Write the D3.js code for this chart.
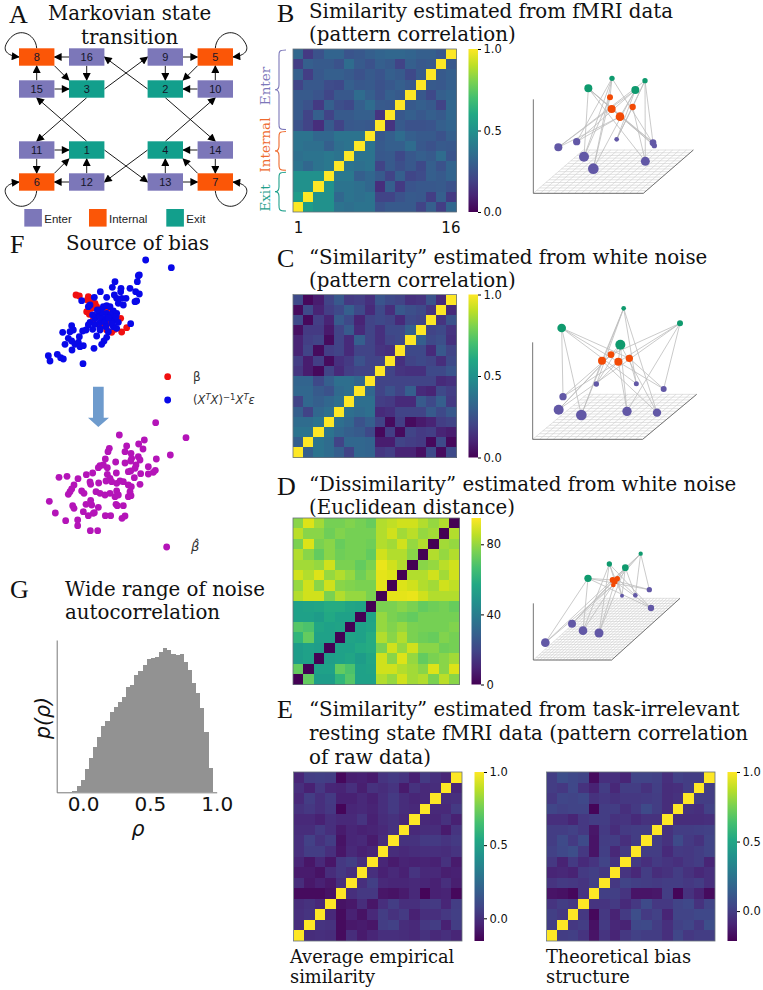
<!DOCTYPE html>
<html>
<head>
<meta charset="utf-8">
<style>
body { margin: 0; background: #fff; }
svg { display: block; }
.title { font-family: "DejaVu Serif"; font-size: 19.8px; fill: #111; }
.caption { font-family: "DejaVu Serif"; font-size: 17.8px; fill: #111; }
.letter { font-family: "Liberation Serif"; font-size: 26px; fill: #111; }
.cbar text { font-family: "DejaVu Sans"; font-size: 11.5px; fill: #111; }
</style>
</head>
<body>
<script src="https://cdnjs.cloudflare.com/ajax/libs/d3/7.8.5/d3.min.js"></script>
<script>
/*global d3*/

var width = 763, height = 990;

// matrices are symmetric: one row per state from 16 down to 2, values left of the diagonal
var simFmri = [
  [.33,.17,.25,.32,.32,.26,.27,.30,.32,.33,.33,.32,.30,.30,.27],
  [.18,.30,.28,.28,.25,.35,.28,.25,.30,.28,.20,.30,.27,.28],
  [.30,.18,.27,.30,.30,.28,.25,.28,.26,.30,.28,.22,.28],
  [.20,.27,.27,.23,.22,.30,.27,.28,.25,.27,.30,.27],
  [.28,.28,.26,.21,.27,.27,.35,.30,.25,.30,.28],
  [.28,.25,.17,.30,.24,.22,.30,.35,.28,.27],
  [.28,.20,.30,.20,.28,.28,.30,.30,.15],
  [.25,.20,.13,.28,.20,.27,.28,.27],
  [.38,.38,.33,.33,.38,.38,.38],
  [.38,.36,.36,.30,.36,.38],
  [.36,.38,.38,.40,.38],
  [.38,.33,.38,.40],
  [.50,.50,.50],
  [.50,.50],
  [.55]
];
var simNoise = [
  [.22,.02,.08,.20,.27,.17,.18,.14,.26,.22,.20,.14,.15,.25,.12],
  [.03,.22,.10,.18,.22,.30,.22,.12,.22,.13,.27,.24,.22,.15],
  [.22,.02,.18,.10,.28,.22,.10,.20,.22,.20,.12,.22,.20],
  [.04,.17,.17,.07,.20,.28,.12,.20,.14,.22,.22,.30],
  [.10,.18,.20,.03,.20,.12,.30,.20,.14,.20,.22],
  [.10,.20,.03,.18,.20,.12,.20,.20,.15,.14],
  [.18,.08,.18,.03,.14,.17,.25,.20,.20],
  [.16,.08,.02,.20,.12,.18,.20,.20],
  [.32,.32,.22,.30,.36,.36,.33],
  [.33,.33,.28,.25,.34,.36],
  [.20,.33,.30,.33,.36],
  [.30,.20,.33,.36],
  [.35,.35,.38],
  [.38,.38],
  [.30]
];
var distNoise = [
  [78,90,82,75,75,77,75,73,84,86,88,88,84,80,84],
  [85,78,78,74,77,75,75,75,84,88,82,85,80,82],
  [76,90,76,78,73,75,75,74,84,82,88,80,84],
  [84,78,72,78,74,75,75,72,88,84,84,78],
  [82,82,80,88,76,76,72,76,92,88,84],
  [88,84,90,80,84,80,74,78,91,90],
  [80,88,78,88,78,77,76,76,91],
  [84,88,88,76,84,80,80,76],
  [54,55,56,58,58,56,55],
  [54,54,52,57,54,54],
  [70,68,56,54,55],
  [62,72,54,54],
  [52,54,53],
  [52,54],
  [72]
];
var simRest = [
  [-.03,.05,.06,.05,-.13,-.06,-.05,-.07,.02,.04,.02,-.05,.04,0,-.03],
  [0,-.05,.03,-.03,-.04,0,-.06,.01,-.01,.02,-.07,.01,-.02,-.01],
  [-.02,.05,0,.04,-.05,-.05,-.02,-.05,0,.04,-.01,-.03,-.02],
  [.01,.03,0,.03,-.14,-.03,-.02,-.04,0,.04,-.01,-.02],
  [-.02,-.02,-.05,0,-.02,-.02,.02,-.05,-.01,.01,-.02],
  [-.01,-.01,.04,0,-.07,-.03,-.05,-.04,-.02,.01],
  [0,.07,.01,.05,-.10,-.03,-.02,-.07,-.01],
  [0,.05,.05,0,-.09,-.02,-.05,-.03],
  [-.03,-.09,-.02,-.09,.03,.06,0],
  [-.07,-.07,-.10,-.01,.03,0],
  [-.01,-.08,-.05,-.08,0],
  [-.12,-.12,-.12,-.10],
  [-.01,.01,-.02],
  [0,.02],
  [-.01]
];
var simTheory = [
  [0,.07,.05,.03,-.18,-.05,-.05,-.09,.03,.03,.02,-.05,.02,0,0],
  [0,-.02,.05,-.04,-.10,0,-.08,0,0,-.04,.01,-.06,-.05,0],
  [-.02,.04,.03,.05,-.04,-.02,-.04,-.02,-.02,-.01,0,-.06,-.04],
  [.04,.02,.03,.03,-.20,0,0,-.05,-.01,.06,0,-.06],
  [-.05,-.05,-.09,-.02,0,0,-.04,-.03,-.07,-.04,-.04],
  [0,0,.02,-.02,-.14,-.01,-.06,-.01,0,0],
  [0,.06,-.01,.06,-.15,0,0,-.05,0],
  [.02,.05,.07,-.02,-.15,.01,-.08,-.01],
  [-.02,-.10,-.01,-.07,-.03,.03,-.03],
  [-.09,-.08,-.10,-.01,.01,-.02],
  [-.03,-.01,-.02,-.03,.01],
  [-.15,-.16,-.19,-.03],
  [-.03,0,-.02],
  [.01,-.02],
  [0]
];

var enterColor = "#7c77b9", internalColor = "#fb5607", exitColor = "#129f8c";

// state diagram: [state, column, row, kind]
var states = [
  [8,0,0,"i"],[16,1,0,"n"],[9,2,0,"n"],[5,3,0,"i"],
  [15,0,1,"n"],[3,1,1,"x"],[2,2,1,"x"],[10,3,1,"n"],
  [11,0,2,"n"],[1,1,2,"x"],[4,2,2,"x"],[14,3,2,"n"],
  [6,0,3,"i"],[12,1,3,"n"],[13,2,3,"n"],[7,3,3,"i"]
];
var transitions = [
  [16,8,"l","r"],[16,3,"b","t"],[15,8,"t","b"],[15,3,"r","l"],[8,3,"br","tl"],
  [9,5,"r","l"],[9,2,"b","t"],[10,5,"t","b"],[10,2,"l","r"],[5,2,"bl","tr"],
  [11,1,"r","l"],[11,6,"b","t"],[12,6,"l","r"],[12,1,"t","b"],[6,1,"tr","bl"],
  [13,7,"r","l"],[13,4,"t","b"],[14,7,"b","t"],[14,4,"l","r"],[7,4,"tl","br"],
  [3,9,"r","l"],[2,16,"l","r"],[3,11,"b","t"],[2,14,"b","t"],
  [1,15,"t","b"],[4,10,"t","b"],[4,12,"l","r"],[1,13,"r","l"]
];
var selfLoops = [[8,-1,-1],[5,1,-1],[6,-1,1],[7,1,1]];
var legendKinds = ["Enter","Internal","Exit"];

// network panels, values read in crop units, state order 1..16
var netBx = [235,376,405,306,330,305,300,368,145,200,429,433,222,250,406,320];
var netBy = [115,120,92,85,200,177,142,171,292,275,278,287,320,356,334,268];
var netBr = [12,12,8,8,13,12,9,9.5,12,11,10,8,15,16,13.5,7];
var netCx = [155,331,510,341,325,358,276,303,351,259,461,379,214,441,159,146];
var netCy = [114,164,100,55,215,205,212,194,364,282,297,281,375,368,320,359];
var netCr = [13,15,9,7,12,11,12,10,14,8,9,7.5,16,12.5,11,15];
var netDx = [234,346,392,298,322,308,315,310,376,336,418,423,219,267,106,186];
var netDy = [145,113,71,102,146,150,155,165,196,197,179,234,302,309,338,281];
var netDr = [11,10,6.5,8,8,9,8,7,7,6,8,9.5,13,13.5,13,12];

// panel F points
var betaX = [228,238,265,275,285,290,260,268,320,330,362,380,365,335,345,320,300,310,325,280,275,262,270];
var betaY = [180,183,185,190,205,215,230,238,225,232,250,278,291,292,283,285,270,265,265,255,220,195,200];
var noiseX = [437,514,418,415,412,345,337,301,363,362,390,407,418,320,343,350,365,378,405,410,370,355,283,245,270,265,310,320,330,300,340,350,295,320,285,270,265,285,300,310,330,345,355,340,325,300,278,258,248,392,290,320,312,305,282,215,220,210,188,238,205,215,195,225,235,250,240,216,145,150,172,182,190,249,300,315,335,350,305,292,278,332,348,318,300,325];
var noiseY = [75,98,120,122,140,140,157,170,160,170,160,170,177,187,180,190,190,190,200,198,210,205,187,197,210,215,215,212,215,225,228,235,240,235,250,262,270,268,262,250,250,255,262,275,290,280,283,285,288,266,303,307,318,328,340,272,285,290,292,305,310,318,328,328,322,332,335,345,362,378,358,368,372,386,245,262,265,280,232,225,240,240,245,275,285,248];
var hatX = [467,358,558,433,416,380,328,324,429,375,393,511,316,347,395,415,420,469,375,392,408,405,392,445,466,460,445,422,403,385,300,322,310,295,278,259,177,201,234,349,322,330,318,335,270,272,296,360,350,370,385,420,394,390,393,385,222,215,210,205,245,252,288,300,315,330,350,355,345,148,272,275,258,218,222,166,250,265,283,295,352,370,348,316,332,375,366,197,233,233,271,293,280];
var hatY = [563,600,608,615,627,633,640,650,642,650,655,660,672,681,670,665,675,672,684,678,690,700,708,695,706,712,717,716,728,710,692,698,690,698,714,719,727,724,731,714,718,730,738,740,741,748,744,738,745,740,750,748,755,770,782,785,750,762,770,778,768,775,770,775,780,775,768,780,785,799,796,810,808,812,820,834,830,842,833,817,812,812,808,842,842,843,850,857,855,872,887,887,835];

// panel G histogram, bin heights in counts
var histStart = -0.11, histStep = 0.03086;
var histCounts = [2,5,19,37,69,104,135,165,199,214,239,255,270,286,315,321,350,364,380,399,403,404,419,433,426,415,412,413,390,365,328,298,252,181,73];

var mainSvg = d3.select("body")
            .append("svg")
            .attr("width", width)
            .attr("height", height);

var defs = mainSvg.append("defs");

defs.append("marker")
    .attr("id", "Triangle")
    .attr("viewBox", "0 0 10 10")
    .attr("refX", 9)
    .attr("refY", 5)
    .attr("markerUnits", "userSpaceOnUse")
    .attr("markerWidth", 9)
    .attr("markerHeight", 8)
    .attr("orient", "auto")
    .append("path")
    .attr("d", "M 0 0 L 10 5 L 0 10 z");

function fullMatrix(rows, diag) {
    var m = d3.range(16).map(function() { return d3.range(16).map(function() { return diag; }); });
    rows.forEach(function(row, k) {
        var r = 15 - k;
        row.forEach(function(v, c) { m[r][c] = v; m[c][r] = v; });
    });
    return m;
}

var gradCount = 0;
function heatmap(rows, diag, domain, ticks, x0, x1, y0, y1, barX) {
    var m = fullMatrix(rows, diag);
    var color = d3.scaleSequential(d3.interpolateViridis).domain(domain);
    var xs = d3.scaleBand().domain(d3.range(16)).range([x0, x1]);
    var ys = d3.scaleBand().domain(d3.range(15, -1, -1)).range([y0, y1]);
    var cells = [];
    m.forEach(function(row, r) { row.forEach(function(v, c) { cells.push({r: r, c: c, v: v}); }); });
    var g = mainSvg.append("g");
    g.selectAll("rect").data(cells).join("rect")
        .attr("x", function(d) { return xs(d.c); })
        .attr("y", function(d) { return ys(d.r); })
        .attr("width", xs.bandwidth())
        .attr("height", ys.bandwidth())
        .attr("shape-rendering", "crispEdges")
        .attr("fill", function(d) { return color(d.v); });
    g.append("rect")
        .attr("x", x0).attr("y", y0).attr("width", x1 - x0).attr("height", y1 - y0)
        .attr("fill", "none").attr("stroke", "#66707a").attr("stroke-width", 0.8);

    var id = "bar" + (gradCount++);
    var grad = defs.append("linearGradient").attr("id", id)
        .attr("x1", 0).attr("y1", 1).attr("x2", 0).attr("y2", 0);
    d3.range(0, 1.01, 0.1).forEach(function(t) {
        grad.append("stop").attr("offset", t).attr("stop-color", d3.interpolateViridis(t));
    });
    mainSvg.append("rect")
        .attr("x", barX).attr("y", y0).attr("width", 9.5).attr("height", y1 - y0)
        .attr("fill", "url(#" + id + ")");
    var sc = d3.scaleLinear().domain(domain).range([y1, y0]);
    var ax = mainSvg.append("g").attr("class", "cbar")
        .attr("transform", "translate(" + (barX + 9.5) + ",0)")
        .call(d3.axisRight(sc).tickValues(ticks.values).tickFormat(function(d, i) { return ticks.labels[i]; })
            .tickSize(3).tickPadding(2.5));
    ax.select(".domain").remove();
    return {xs: xs, ys: ys};
}

var fmtTicks = {values: [0, 0.5, 1], labels: ["0.0", "0.5", "1.0"]};
var heatB = heatmap(simFmri, 1, [0, 1], fmtTicks, 293, 456.5, 49, 212, 468.5);
heatmap(simNoise, 1, [0, 1], fmtTicks, 293, 456.5, 294.5, 457.5, 468.5);
heatmap(distNoise, 0, [0, 95], {values: [0, 40, 80], labels: ["0", "40", "80"]}, 293, 459.5, 518, 684.5, 471.5);
heatmap(simRest, 1, [-0.155, 1], fmtTicks, 293.5, 462, 772, 941, 474.5);
heatmap(simTheory, 1, [-0.215, 1], fmtTicks, 546.5, 715, 772, 941, 727.5);

// braces next to panel B
var braces = [
  {name: "Enter", from: 15, to: 8, color: "#7c77b9", labelY: 86},
  {name: "Internal", from: 7, to: 4, color: "#ee6a2e", labelY: 145},
  {name: "Exit", from: 3, to: 0, color: "#1fa08c", labelY: 198}
];
braces.forEach(function(b) {
    var top = heatB.ys(b.from) + 1, bottom = heatB.ys(b.to) + heatB.ys.bandwidth() - 1, mid = (top + bottom) / 2;
    var xr = 286, xm = 279, xt = 275;
    mainSvg.append("path")
        .attr("d", "M" + xr + "," + top + "C" + (xm - 1) + "," + top + " " + xm + "," + (top + 2) + " " + xm + "," + (top + 8) +
            "L" + xm + "," + (mid - 5) + "C" + xm + "," + (mid - 1) + " " + (xt + 2) + "," + mid + " " + xt + "," + mid +
            "C" + (xt + 2) + "," + mid + " " + xm + "," + (mid + 1) + " " + xm + "," + (mid + 5) +
            "L" + xm + "," + (bottom - 8) + "C" + xm + "," + (bottom - 2) + " " + (xm - 1) + "," + bottom + " " + xr + "," + bottom)
        .attr("fill", "none").attr("stroke", b.color).attr("stroke-width", 1.1);
    mainSvg.append("text")
        .attr("transform", "translate(270," + b.labelY + ") rotate(-90)")
        .attr("text-anchor", "middle")
        .attr("font-family", "DejaVu Serif").attr("font-size", 13.5)
        .attr("fill", b.color)
        .text(b.name);
});

mainSvg.selectAll(".endlabel").data([[0, "1"], [15, "16"]]).join("text")
    .attr("x", function(d) { return heatB.xs(d[0]) + heatB.xs.bandwidth() / 2 + (d[0] ? -0.5 : 0.5); })
    .attr("y", 233)
    .attr("text-anchor", "middle")
    .attr("font-family", "DejaVu Sans").attr("font-size", 15).attr("fill", "#111")
    .text(function(d) { return d[1]; });

// panel A
var colB = d3.scaleOrdinal().domain([0, 1, 2, 3]).range([36.7, 86.7, 165.3, 215.3]);
var rowA = d3.scaleOrdinal().domain([0, 1, 2, 3]).range([57, 89, 150, 182]);
var boxW = 35.4, boxH = 17.4;
var kindColor = {n: enterColor, i: internalColor, x: exitColor};
var pos = {};
states.forEach(function(s) { pos[s[0]] = [colB(s[1]), rowA(s[2])]; });

function anchor(st, side) {
    var p = pos[st], x = p[0], y = p[1];
    if (side.indexOf("l") >= 0) x -= boxW / 2;
    if (side.indexOf("r") >= 0) x += boxW / 2;
    if (side.indexOf("t") >= 0) y -= boxH / 2;
    if (side.indexOf("b") >= 0) y += boxH / 2;
    return [x, y];
}

var gA = mainSvg.append("g");
gA.selectAll("line").data(transitions).join("line")
    .attr("x1", function(d) { return anchor(d[0], d[2])[0]; })
    .attr("y1", function(d) { return anchor(d[0], d[2])[1]; })
    .attr("x2", function(d) { return anchor(d[1], d[3])[0]; })
    .attr("y2", function(d) { return anchor(d[1], d[3])[1]; })
    .attr("stroke", "#000").attr("stroke-width", 0.9)
    .attr("marker-end", "url(#Triangle)");

gA.selectAll("path.loop").data(selfLoops).join("path")
    .attr("class", "loop")
    .attr("d", function(d) {
        var p = pos[d[0]], x = p[0], y = p[1], sx = d[1], sy = d[2];
        var pt = function(a, b) { return (x + sx * a) + "," + (y + sy * b); };
        return "M" + pt(0, 8.7) +
            "C" + pt(1, 24) + " " + pt(20, 32) + " " + pt(30, 14) +
            "C" + pt(35, 5) + " " + pt(27, 1) + " " + pt(17.7, 0);
    })
    .attr("fill", "none").attr("stroke", "#000").attr("stroke-width", 0.9)
    .attr("marker-end", "url(#Triangle)");

gA.selectAll("rect").data(states).join("rect")
    .attr("x", function(d) { return colB(d[1]) - boxW / 2; })
    .attr("y", function(d) { return rowA(d[2]) - boxH / 2; })
    .attr("width", boxW).attr("height", boxH)
    .attr("fill", function(d) { return kindColor[d[3]]; });
gA.selectAll("text").data(states).join("text")
    .attr("x", function(d) { return colB(d[1]); })
    .attr("y", function(d) { return rowA(d[2]) + 4; })
    .attr("text-anchor", "middle")
    .attr("font-family", "Liberation Sans").attr("font-size", 11).attr("fill", "#15152a")
    .text(function(d) { return d[0]; });

var legendX = d3.scaleOrdinal().domain(legendKinds).range([24.3, 89, 166.3]);
var legendColor = d3.scaleOrdinal().domain(legendKinds).range([enterColor, internalColor, exitColor]);
var legA = mainSvg.append("g");
legA.selectAll("rect").data(legendKinds).join("rect")
    .attr("x", function(d) { return legendX(d); }).attr("y", 209)
    .attr("width", 17.6).attr("height", 17.6)
    .attr("fill", function(d) { return legendColor(d); });
legA.selectAll("text").data(legendKinds).join("text")
    .attr("x", function(d) { return legendX(d) + 20; }).attr("y", 223)
    .attr("font-family", "Liberation Sans").attr("font-size", 11.5).attr("fill", "#222")
    .text(function(d) { return d; });

// network panels
var netColors = ["#0f9a6e", "#f24a05", "#6258a6"];
function stateKind(st) { return st <= 4 ? 0 : st <= 8 ? 1 : 2; }

function network(xs, ys, rs, ox, oy, floor, nGrid) {
    var sx = d3.scaleLinear().domain([0, 750]).range([ox, ox + 250]);
    var sy = d3.scaleLinear().domain([0, 750]).range([oy, oy + 250]);
    var g = mainSvg.append("g");
    var fx = function(u, v) { return sx(floor[0] + u * floor[1] + v * floor[2]); };
    var fy = function(v) { return sy(floor[3] - v * floor[4]); };
    var steps = d3.range(0, nGrid + 1).map(function(i) { return i / nGrid; });
    g.selectAll("line.gu").data(steps).join("line").attr("class", "gu")
        .attr("x1", function(t) { return fx(t, 0); }).attr("y1", fy(0))
        .attr("x2", function(t) { return fx(t, 1); }).attr("y2", fy(1))
        .attr("stroke", "#cfcfcf").attr("stroke-width", 0.6);
    g.selectAll("line.gv").data(steps).join("line").attr("class", "gv")
        .attr("x1", function(t) { return fx(0, t); }).attr("y1", function(t) { return fy(t); })
        .attr("x2", function(t) { return fx(1, t); }).attr("y2", function(t) { return fy(t); })
        .attr("stroke", "#cfcfcf").attr("stroke-width", 0.6);
    var borders = [
        [fx(0, 0), fy(0), fx(0, 0), sy(floor[5])],
        [fx(0, 0), fy(0), fx(1, 0), fy(0)],
        [fx(1, 0), fy(0), fx(1, 1), fy(1)]
    ];
    g.selectAll("line.edge3").data(borders).join("line").attr("class", "edge3")
        .attr("x1", function(d) { return d[0]; }).attr("y1", function(d) { return d[1]; })
        .attr("x2", function(d) { return d[2]; }).attr("y2", function(d) { return d[3]; })
        .attr("stroke", "#666").attr("stroke-width", 0.9);
    g.selectAll("line.link").data(transitions).join("line").attr("class", "link")
        .attr("x1", function(d) { return sx(xs[d[0] - 1]); })
        .attr("y1", function(d) { return sy(ys[d[0] - 1]); })
        .attr("x2", function(d) { return sx(xs[d[1] - 1]); })
        .attr("y2", function(d) { return sy(ys[d[1] - 1]); })
        .attr("stroke", "#bdbdbd").attr("stroke-width", 0.8);
    g.selectAll("circle").data(d3.range(1, 17)).join("circle")
        .attr("cx", function(s) { return sx(xs[s - 1]); })
        .attr("cy", function(s) { return sy(ys[s - 1]); })
        .attr("r", function(s) { return rs[s - 1] / 3; })
        .attr("fill", function(s) { return netColors[stateKind(s)]; });
}

// floor = [left x, width, skew, near y, depth, axis top y] in crop units
network(netBx, netBy, netBr, 510, 50, [70, 330, 150, 430, 130, 148], 16);
network(netCx, netCy, netCr, 510, 290, [68, 330, 162, 448, 135, 157], 16);
network(netDx, netDy, netDr, 510, 530, [70, 235, 205, 390, 185, 220], 24);

// panel F
var fX = d3.scaleLinear().domain([0, 795]).range([0, 265]);
var fY = d3.scaleLinear().domain([0, 990]).range([235, 565]);
function dots(xs, ys, color) {
    mainSvg.append("g").selectAll("circle").data(xs).join("circle")
        .attr("cx", function(d) { return fX(d); })
        .attr("cy", function(d, i) { return fY(ys[i]); })
        .attr("r", 3.4)
        .attr("fill", color);
}
dots(betaX, betaY, "#f01010");
dots(noiseX, noiseY, "#0808e8");
dots(hatX, hatY, "#b414b8");
dots([503], [425], "#f01010");
dots([503], [495], "#0808e8");
dots([500], [936], "#b414b8");

mainSvg.append("path")
    .attr("d", d3.line()([[93, 386.7], [103.7, 386.7], [103.7, 417.7], [109, 417.7], [98.3, 427], [88, 417.7], [93, 417.7]]) + "Z")
    .attr("fill", "#6e9bcd");

var mathFont = "DejaVu Sans";
mainSvg.append("text").attr("x", 193).attr("y", 381)
    .attr("font-family", mathFont).attr("font-size", 12).attr("fill", "#333").text("\u03b2");
var formula = mainSvg.append("text").attr("x", 193).attr("y", 404)
    .attr("font-family", mathFont).attr("font-size", 11.5).attr("fill", "#333");
[["(", 0, 0, 0], ["X", 0, 1, 0], ["T", -4, 1, 1], ["X", 4, 1, 0], [")", 0, 0, 0], ["\u22121", -4, 0, 1],
 ["X", 4, 1, 0], ["T", -4, 1, 1], ["\u03b5", 4, 1, 0]].forEach(function(p) {
    formula.append("tspan").attr("dy", p[1])
        .attr("font-style", p[2] ? "italic" : "normal")
        .attr("font-size", p[3] ? 8.5 : 11.5)
        .text(p[0]);
});
mainSvg.append("text").attr("x", 191).attr("y", 551)
    .attr("font-family", mathFont).attr("font-size", 13).attr("font-style", "italic").attr("fill", "#333")
    .text("\u03b2\u0302");

// panel G
var gx = d3.scaleLinear().domain([-0.197, 1]).range([56.7, 216.7]);
var gy = d3.scaleLinear().domain([0, 456]).range([792.3, 640]);
mainSvg.append("g").selectAll("rect").data(histCounts).join("rect")
    .attr("x", function(d, i) { return gx(histStart + i * histStep); })
    .attr("y", function(d) { return gy(d); })
    .attr("width", gx(histStep) - gx(0))
    .attr("height", function(d) { return gy(0) - gy(d); })
    .attr("shape-rendering", "crispEdges")
    .attr("fill", "#929292");
var axB = mainSvg.append("g").attr("transform", "translate(0,792.3)")
    .call(d3.axisBottom(gx).tickValues([0, 0.5, 1]).tickFormat(d3.format(".1f")).tickSize(0).tickPadding(5));
axB.selectAll("text").attr("font-family", "DejaVu Sans").attr("font-size", 20).attr("fill", "#111");
axB.select(".domain").attr("stroke", "#777");
var axL = mainSvg.append("g").attr("transform", "translate(56.7,0)")
    .call(d3.axisLeft(gy).tickValues([]).tickSizeOuter(0));
axL.select(".domain").attr("stroke", "#777");
mainSvg.append("text").attr("x", 138).attr("y", 836).attr("text-anchor", "middle")
    .attr("font-family", mathFont).attr("font-style", "italic").attr("font-size", 20.5).attr("fill", "#111")
    .text("\u03c1");
mainSvg.append("text")
    .attr("transform", "translate(50,718) rotate(-90)")
    .attr("text-anchor", "middle")
    .attr("font-family", mathFont).attr("font-style", "italic").attr("font-size", 20.5).attr("fill", "#111")
    .text("p(\u03c1)");

// titles and panel letters
var titles = [
  ["Markovian state", 48, 20], ["transition", 81, 43.5],
  ["Similarity estimated from fMRI data", 309, 17.5], ["(pattern correlation)", 309, 40.5],
  ["\u201cSimilarity\u201d estimated from white noise", 309, 264], ["(pattern correlation)", 309, 287],
  ["\u201cDissimilarity\u201d estimated from white noise", 309, 491], ["(Euclidean distance)", 309, 514],
  ["\u201cSimilarity\u201d estimated from task-irrelevant", 309, 716], ["resting state fMRI data (pattern correlation", 309, 740], ["of raw data)", 309, 764],
  ["Source of bias", 66, 250],
  ["Wide range of noise", 65, 596], ["autocorrelation", 65, 619]
];
mainSvg.append("g").selectAll("text").data(titles).join("text")
    .attr("class", "title")
    .attr("x", function(d) { return d[1]; })
    .attr("y", function(d) { return d[2]; })
    .text(function(d) { return d[0]; });
var captions = [["Average empirical", 290, 963], ["similarity", 290, 983], ["Theoretical bias", 546, 963], ["structure", 546, 983]];
mainSvg.append("g").selectAll("text").data(captions).join("text")
    .attr("class", "caption")
    .attr("x", function(d) { return d[1]; })
    .attr("y", function(d) { return d[2]; })
    .text(function(d) { return d[0]; });
var letters = [["A", 9, 23], ["B", 277, 22], ["C", 277, 266.5], ["D", 277, 495], ["E", 277, 718], ["F", 10, 253], ["G", 10, 598]];
mainSvg.append("g").selectAll("text").data(letters).join("text")
    .attr("class", "letter")
    .attr("x", function(d) { return d[1]; })
    .attr("y", function(d) { return d[2]; })
    .text(function(d) { return d[0]; });
</script>
</body>
</html>
